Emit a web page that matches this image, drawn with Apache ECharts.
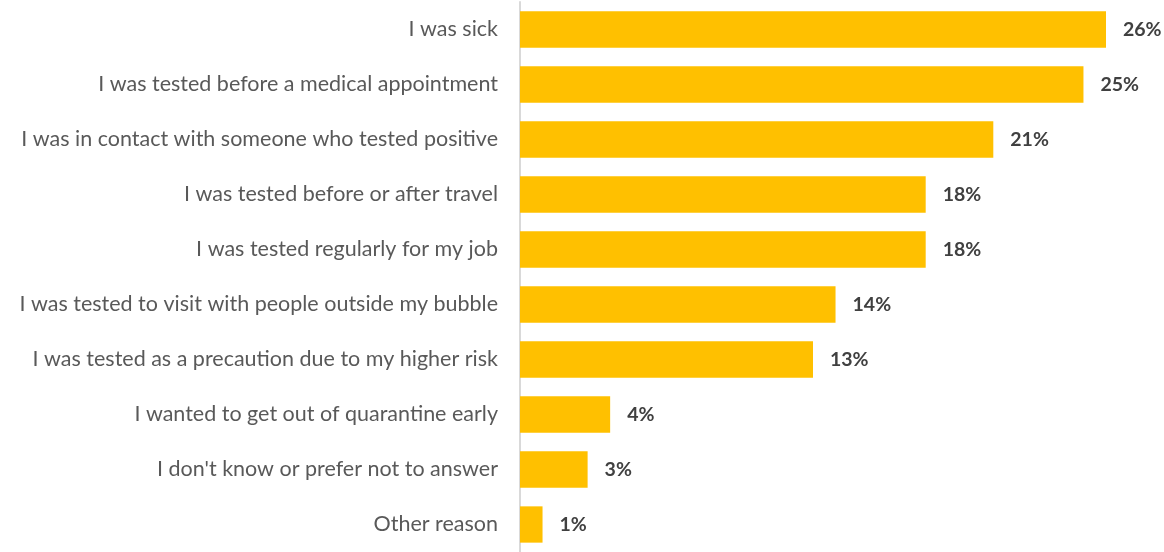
<!DOCTYPE html>
<html>
<head>
<meta charset="utf-8">
<script src="https://cdn.jsdelivr.net/npm/echarts@6/dist/echarts.min.js"></script>
<style>
  html, body { margin: 0; padding: 0; background: #ffffff; }
  #chart { width: 1164px; height: 552px; }
</style>
</head>
<body>
<div id="chart"></div>
<script>
// Reasons for getting tested (share of respondents, %)
const categories = [
  "I was sick",
  "I was tested before a medical appointment",
  "I was in contact with someone who tested positive",
  "I was tested before or after travel",
  "I was tested regularly for my job",
  "I was tested to visit with people outside my bubble",
  "I was tested as a precaution due to my higher risk",
  "I wanted to get out of quarantine early",
  "I don't know or prefer not to answer",
  "Other reason"
];
const shares = [26, 25, 21, 18, 18, 14, 13, 4, 3, 1];

const chart = echarts.init(document.getElementById('chart'), null, { renderer: 'canvas' });
chart.setOption({
  animation: false,
  backgroundColor: '#ffffff',
  grid: { left: 520, right: 58, top: 2, bottom: 0, containLabel: false },
  xAxis: {
    type: 'value',
    min: 0,
    max: 26,
    show: false,
    splitLine: { show: false }
  },
  yAxis: {
    type: 'category',
    data: categories,
    inverse: true,
    axisLine: { show: true, lineStyle: { color: '#d9d9d9', width: 2 } },
    axisTick: { show: false },
    axisLabel: {
      margin: 22,
      fontFamily: 'Lato',
      fontSize: 21.5,
      color: '#595959',
      padding: [6, 0, 0, 0]
    }
  },
  series: [{
    type: 'bar',
    data: shares,
    barCategoryGap: '34%',
    itemStyle: { color: '#ffc000' },
    label: {
      show: true,
      position: 'right',
      distance: 17,
      formatter: p => p.value + '%',
      fontFamily: 'Lato',
      fontWeight: 'bold',
      fontSize: 19.5,
      color: '#404040',
      padding: [5, 0, 0, 0]
    }
  }]
});
</script>
</body>
</html>
